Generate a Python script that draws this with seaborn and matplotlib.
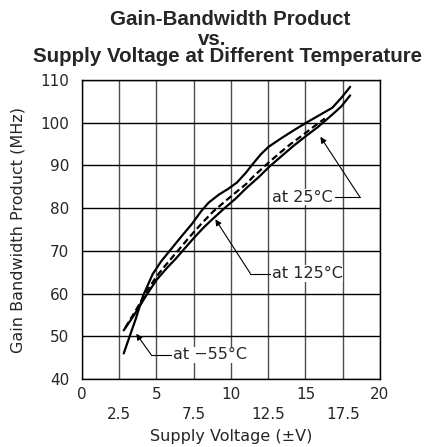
import matplotlib
matplotlib.use("Agg")
import matplotlib.pyplot as plt
import seaborn as sns
import pandas as pd

# values
volt_m55 = [2.8, 3.2, 3.6, 4.1, 4.75, 5.3, 6.0, 6.7, 7.4, 8.0, 8.5, 9.2, 9.8, 10.4,
            11.0, 11.5, 12.0, 12.5, 13.3, 14.2, 15.0, 15.8, 16.8, 17.4, 18.0]
gbw_m55 = [46.0, 50.0, 54.0, 59.5, 64.6, 67.5, 70.5, 73.5, 76.4, 79.3, 81.3, 83.2, 84.5, 86.0,
           88.3, 90.5, 92.6, 94.3, 96.2, 98.2, 99.9, 101.5, 103.5, 105.8, 108.4]

volt_25 = [2.9, 3.6, 4.3, 5.0, 5.5, 6.5, 7.2, 8.0, 8.8, 9.5, 10.5, 11.0, 11.5, 12.5,
           13.3, 14.0, 15.0, 15.6, 16.3]
gbw_25 = [52.0, 56.0, 60.3, 64.0, 66.2, 70.3, 73.2, 76.3, 79.2, 81.3, 84.2, 85.6, 87.4, 90.6,
          93.0, 95.0, 97.6, 99.2, 101.0]

volt_125 = [2.8, 3.5, 4.3, 5.0, 5.7, 6.3, 7.0, 7.5, 8.2, 8.75, 9.5, 10.3, 11.0, 11.9,
            12.6, 13.4, 14.2, 15.0, 15.8, 16.7, 17.4, 18.0]
gbw_125 = [51.4, 55.0, 59.5, 63.2, 66.0, 68.2, 71.0, 73.0, 75.6, 77.4, 79.8, 82.2, 84.6, 87.4,
           89.8, 92.2, 94.6, 96.8, 98.9, 101.6, 103.8, 106.4]

temps = ["-55", "25", "125"]
major_x = [0, 5, 10, 15, 20]
minor_x = [2.5, 7.5, 12.5, 17.5]
yticks = [40, 50, 60, 70, 80, 90, 100, 110]

# annotations: label, text position, elbow of the leader, arrow tip, horizontal segment
notes = [
    ("at 25\u00b0C", (12.75, 82.6), (18.65, 82.6), (16.0, 96.7), (17.0, 18.65)),
    ("at 125\u00b0C", (12.75, 64.7), (11.3, 64.7), (8.95, 77.4), (11.3, 12.75)),
    ("at \u221255\u00b0C", (6.1, 45.7), (4.64, 45.7), (3.64, 50.6), (4.64, 6.1)),
]

title_lines = ["Gain-Bandwidth Product", "vs.", "Supply Voltage at Different Temperature"]

df = pd.concat([
    pd.DataFrame({"volt": volt_m55, "gbw": gbw_m55, "temp": "-55"}),
    pd.DataFrame({"volt": volt_25, "gbw": gbw_25, "temp": "25"}),
    pd.DataFrame({"volt": volt_125, "gbw": gbw_125, "temp": "125"}),
])

sns.set_style("white")
plt.rcParams["font.family"] = ["DejaVu Sans"]

fig = plt.figure(figsize=(4.35, 4.47), dpi=100)
ax = fig.add_axes([0.1885, 0.152, 0.685, 0.669])

sns.lineplot(data=df, x="volt", y="gbw", hue="temp", style="temp", sort=False,
             palette={t: "black" for t in temps},
             dashes={"-55": "", "25": (3, 1.6), "125": ""},
             linewidth=1.6, legend=False, ax=ax)

ax.set_xlim(0, 20)
ax.set_ylim(40, 110)
ax.set_xticks(major_x)
ax.set_xticklabels([str(v) for v in major_x])
ax.set_xticks(minor_x, minor=True)
ax.set_xticklabels([str(v) for v in minor_x], minor=True)
ax.set_yticks(yticks)
ax.tick_params(axis="x", which="major", direction="in", length=3, pad=6, labelsize=11)
ax.tick_params(axis="x", which="minor", direction="in", length=3, pad=20, labelsize=11)
ax.tick_params(axis="y", direction="in", length=3, pad=9, labelsize=11)

ax.grid(True, which="both", axis="x", color="0.3", linewidth=1.0)
ax.grid(True, which="major", axis="y", color="black", linewidth=1.0)
for s in ax.spines.values():
    s.set_color("black")
    s.set_linewidth(1.0)

ax.set_xlabel("Supply Voltage (\u00b1V)", fontsize=11.5, labelpad=5)
ax.set_ylabel("Gain Bandwidth Product (MHz)", fontsize=11.5, labelpad=11)

for label, txt, elbow, tip, seg in notes:
    ax.text(txt[0], txt[1], label, fontsize=11.5, va="center", ha="left",
            bbox=dict(facecolor="white", edgecolor="none", pad=0.5))
    ax.plot(list(seg), [elbow[1], elbow[1]], color="black", linewidth=0.8)
    ax.annotate("", xy=tip, xytext=elbow,
                arrowprops=dict(arrowstyle="-|>", color="black", lw=0.8,
                                mutation_scale=9, shrinkA=0, shrinkB=0))

for line, xc, yb in zip(title_lines, [0.529, 0.487, 0.522], [0.944, 0.900, 0.861]):
    fig.text(xc, yb, line, ha="center", va="baseline", fontsize=14.8,
             fontweight="bold", family="Liberation Sans")

fig.savefig("out.png", dpi=100)
